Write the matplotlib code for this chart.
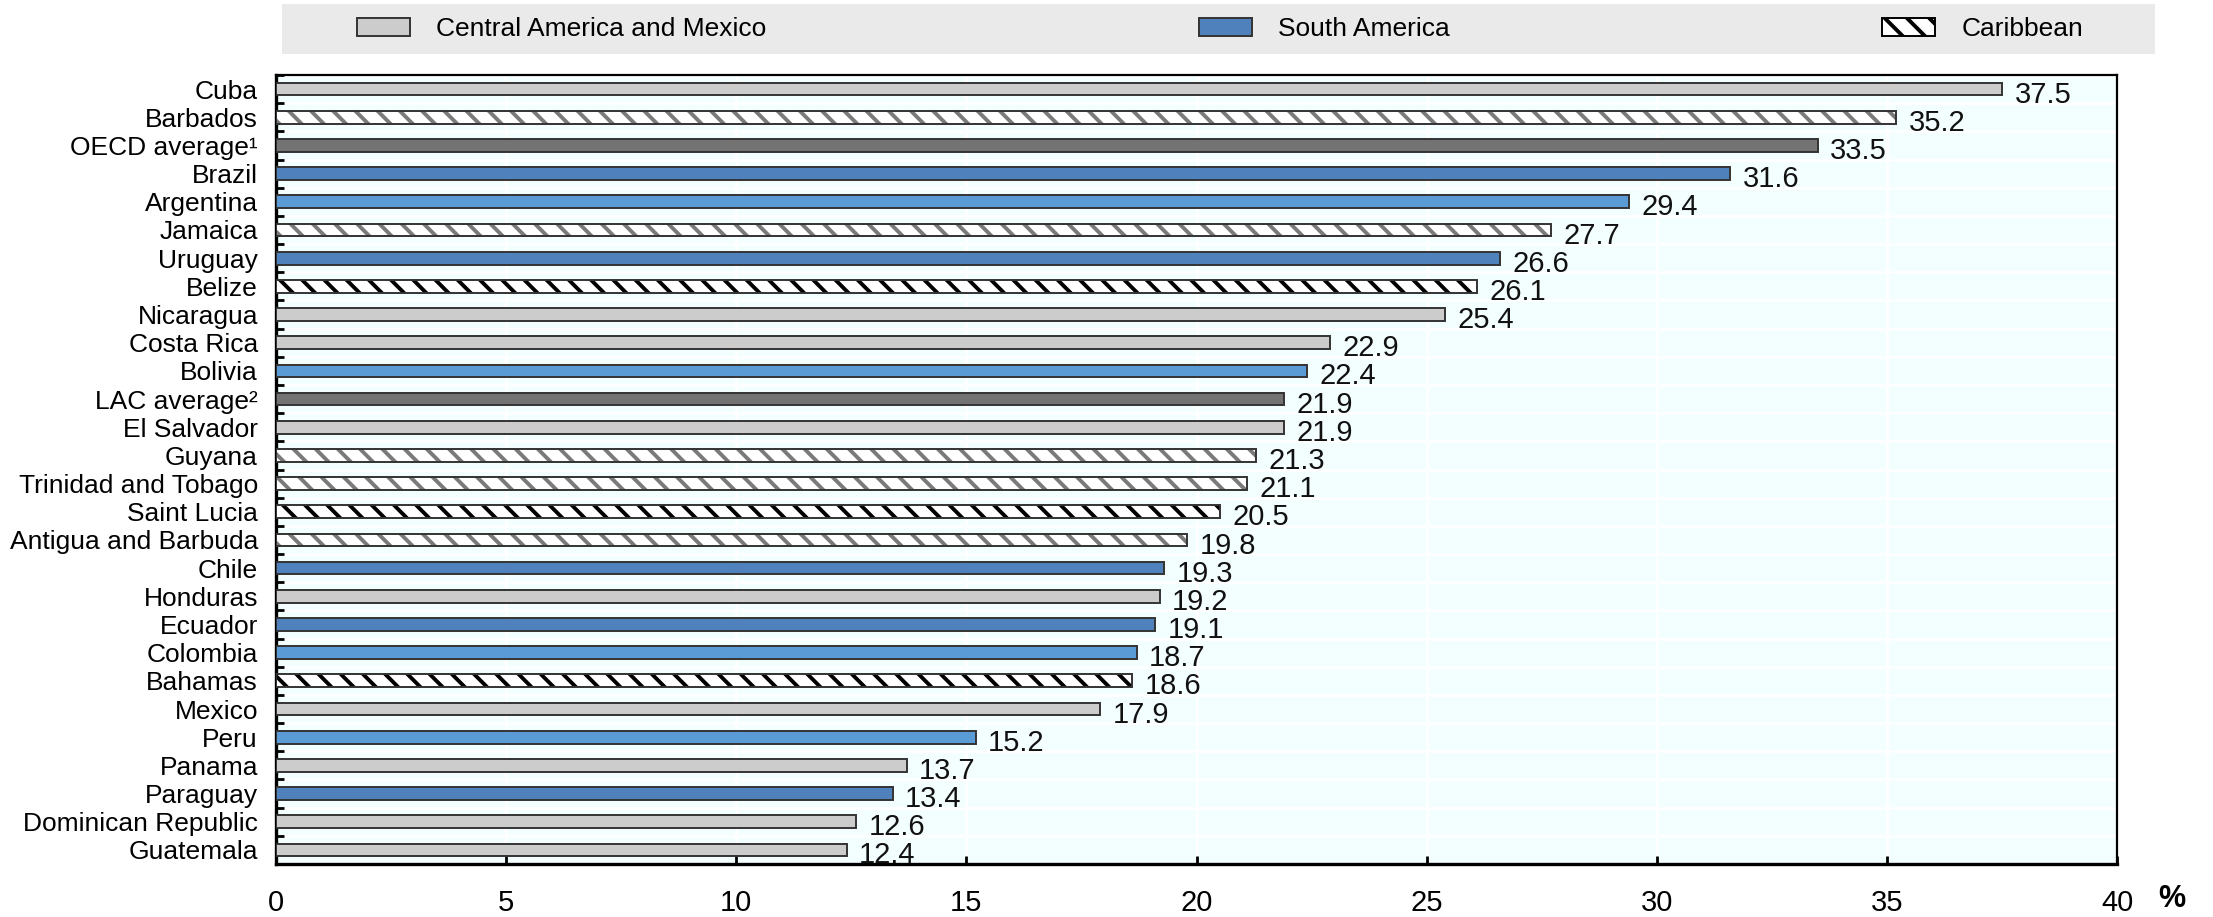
import matplotlib
matplotlib.use("Agg")
import matplotlib.pyplot as plt
from matplotlib.patches import Patch, Rectangle
import numpy as np

plt.rcParams['font.family'] = ['Liberation Sans', 'DejaVu Sans']
plt.rcParams['hatch.linewidth'] = 1.4

# Countries, top to bottom
countries = ["Cuba", "Barbados", "OECD average\u00b9", "Brazil", "Argentina", "Jamaica",
             "Uruguay", "Belize", "Nicaragua", "Costa Rica", "Bolivia", "LAC average\u00b2",
             "El Salvador", "Guyana", "Trinidad and Tobago", "Saint Lucia",
             "Antigua and Barbuda", "Chile", "Honduras", "Ecuador", "Colombia", "Bahamas",
             "Mexico", "Peru", "Panama", "Paraguay", "Dominican Republic", "Guatemala"]
values = [37.5, 35.2, 33.5, 31.6, 29.4, 27.7, 26.6, 26.1, 25.4, 22.9, 22.4, 21.9,
          21.9, 21.3, 21.1, 20.5, 19.8, 19.3, 19.2, 19.1, 18.7, 18.6, 17.9, 15.2,
          13.7, 13.4, 12.6, 12.4]
# cam = Central America and Mexico, sa1/sa2 = South America shades,
# car1 = Caribbean (grey stripes), car2 = Caribbean (black stripes), avg = averages
groups = ["cam", "car1", "avg", "sa1", "sa2", "car1", "sa1", "car2", "cam", "cam",
          "sa2", "avg", "cam", "car1", "car1", "car2", "car1", "sa1", "cam", "sa1",
          "sa2", "car2", "cam", "sa2", "cam", "sa1", "cam", "cam"]
legend_labels = ["Central America and Mexico", "South America", "Caribbean"]
xticks = [0, 5, 10, 15, 20, 25, 30, 35, 40]

# face colour, hatch colour (None = solid)
styles = {
    "cam": ("#cccccc", None),
    "sa1": ("#4f81bd", None),
    "sa2": ("#5b9bd5", None),
    "avg": ("#737373", None),
    "car1": ("white", "#7a7a7a"),
    "car2": ("white", "black"),
}
edge = "#333333"

fig = plt.figure(figsize=(2213 / 200, 917 / 200), dpi=200)
ax = fig.add_axes([276 / 2213, 1 - 864 / 917, (2117 - 276) / 2213, (864 - 75) / 917])
ax.set_facecolor("#f3feff")

y = np.arange(len(countries))
h = 0.45
for yi, v, g in zip(y, values, groups):
    face, hcol = styles[g]
    if hcol is None:
        ax.barh(yi, v, height=h, color=face, edgecolor=edge, linewidth=0.7, zorder=3)
    else:
        ax.barh(yi, v, height=h, color=face, edgecolor=hcol, hatch="\\\\\\",
                linewidth=0, zorder=3)
        ax.barh(yi, v, height=h, fill=False, edgecolor=edge, linewidth=0.7, zorder=4)
    ax.annotate(f"{v:.1f}", (v, yi), xytext=(4.5, -2), textcoords="offset points",
                ha="left", va="center", fontsize=10.5, color="#111111", zorder=5)

ax.set_xlim(0, 40)
ax.set_ylim(len(countries) - 0.5, -0.5)
ax.set_xticks(xticks)
ax.set_xticklabels([str(t) for t in xticks])
ax.set_yticks(y)
ax.set_yticklabels(countries)
ax.set_yticks(np.arange(len(countries) + 1) - 0.5, minor=True)

ax.tick_params(axis="x", direction="in", length=3, width=1, pad=9, labelsize=10.5)
ax.tick_params(axis="y", which="major", length=0, pad=6.5, labelsize=9.5)
ax.tick_params(axis="y", which="minor", direction="in", length=3, width=1)

ax.grid(axis="x", color="white", linewidth=1, zorder=1)
ax.grid(axis="y", which="minor", color="white", linewidth=1, zorder=1)
ax.set_axisbelow(True)

for side in ["left", "bottom"]:
    ax.spines[side].set_linewidth(1.2)
for side in ["top", "right"]:
    ax.spines[side].set_linewidth(0.8)
for s in ax.spines.values():
    s.set_color("black")

fig.text(2172 / 2213, 1 - 899 / 917, "%", fontsize=11, fontweight="bold",
         ha="center", va="center")

# legend band across the top
fig.patches.append(Rectangle((282 / 2213, 1 - 54 / 917), (2155 - 282) / 2213, 50 / 917,
                             transform=fig.transFigure, facecolor="#eaeaea",
                             edgecolor="none", zorder=0))
handles = [Patch(facecolor=styles["cam"][0], edgecolor=edge, linewidth=0.7),
           Patch(facecolor=styles["sa1"][0], edgecolor=edge, linewidth=0.7),
           Patch(facecolor="white", edgecolor="black", hatch="\\\\\\", linewidth=0.7)]
fig.legend(handles, legend_labels, ncol=3, mode="expand", frameon=False,
           bbox_to_anchor=(357 / 2213, 1 - 54 / 917, (2083 - 357) / 2213, 50 / 917),
           loc="center", fontsize=9.5, handlelength=2.0, handleheight=0.65,
           handletextpad=1.0, borderpad=0, borderaxespad=0)

fig.savefig("out.png", dpi=200)
